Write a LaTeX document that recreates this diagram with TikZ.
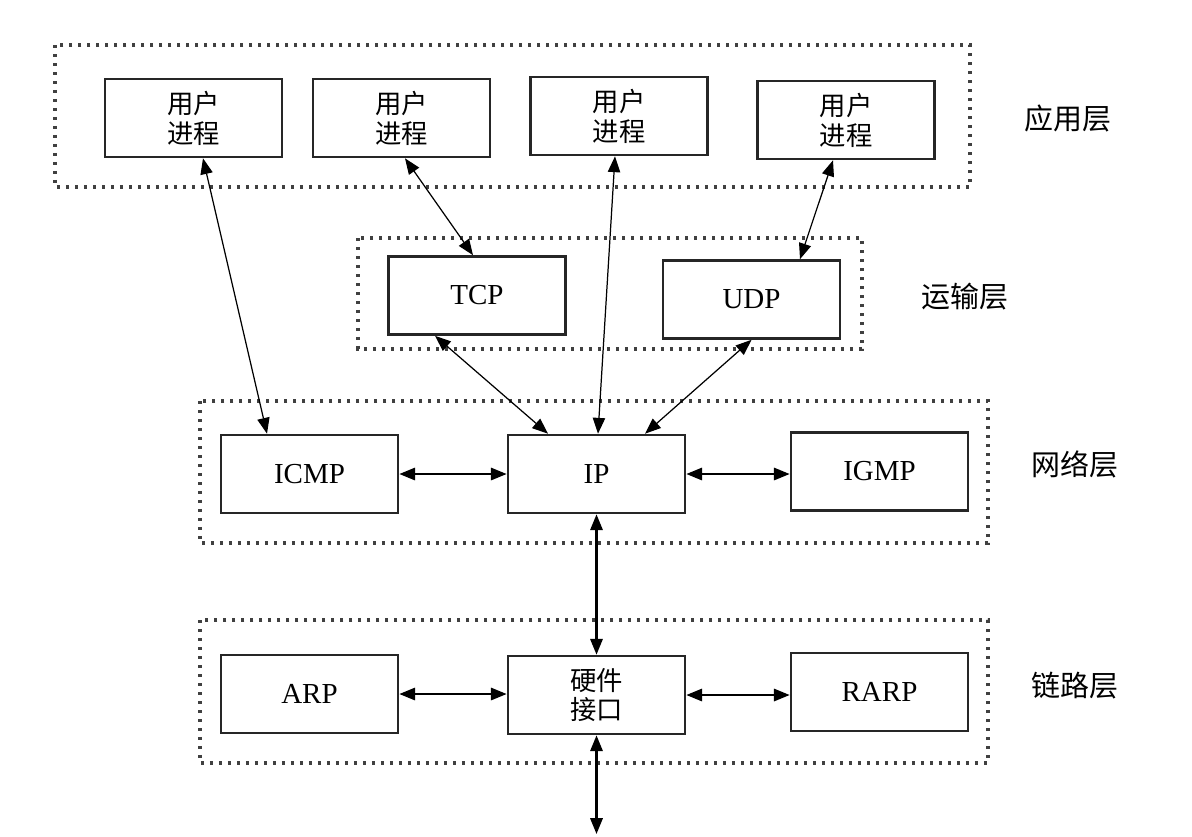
\documentclass[tikz,border=0pt]{standalone}
\usepackage{fontspec}
\setmainfont{Liberation Serif}
\newfontfamily\cjk{Noto Sans CJK SC}
\usetikzlibrary{arrows.meta}
\begin{document}
\begin{tikzpicture}[x=0.02cm,y=-0.02cm,
  box/.style={draw=black!85, line width=1.5pt, minimum width=3.54cm, minimum height=1.56cm, inner sep=0pt, fill=white, font=\fontsize{16.5}{17}\selectfont, align=center},
  cbox/.style={box, font=\cjk\fontsize{15}{17}\selectfont},
  layer/.style={draw=black!75, line width=1.8pt, dash pattern=on 0.065cm off 0.115cm},
  lbl/.style={font=\cjk\fontsize{16.5}{18}\selectfont},
  link/.style={{Triangle[length=9pt,width=7pt]}-{Triangle[length=9pt,width=7pt]}, line width=0.7pt},
  hlink/.style={link, line width=1.3pt}]
\useasboundingbox (0,0) rectangle (1192,836);
% layers
\draw[layer] (55,45) rectangle (970,187);
\draw[layer] (358,238) rectangle (862,349);
\draw[layer] (200,401) rectangle (988,543);
\draw[layer] (200,620) rectangle (988,763);
% layer labels
\node[lbl] (lapp) at (1068,118) {应用层};
\node[lbl] (ltr)  at (965,297) {运输层};
\node[lbl] (lnet) at (1075,464) {网络层};
\node[lbl] (llnk) at (1075,686) {链路层};
% boxes
\node[cbox] (up1) at (193.5,118) {用户\\进程};
\node[cbox] (up2) at (401.5,118) {用户\\进程};
\node[cbox] (up3) at (619,116) {用户\\进程};
\node[cbox] (up4) at (846,120) {用户\\进程};
\node[box] (tcp) at (477,295.5) {TCP};
\node[box] (udp) at (751.5,299.5) {UDP};
\node[box] (icmp) at (309.5,474) {ICMP};
\node[box] (ip) at (596.5,474) {IP};
\node[box] (igmp) at (879.5,471.5) {IGMP};
\node[box] (arp) at (309.5,694) {ARP};
\node[cbox] (hw) at (596.5,695) {硬件\\接口};
\node[box] (rarp) at (879.5,692) {RARP};
\coordinate (ext) at (596.5,834);
% connectors
\draw[link] ([xshift=0.19cm]up1.south) -- ([xshift=-0.85cm]icmp.north);
\draw[link] ([xshift=0.07cm]up2.south) -- ([xshift=-0.08cm]tcp.north);
\draw[link] ([xshift=-0.08cm]up3.south) -- ([xshift=0.03cm]ip.north);
\draw[link] ([xshift=-0.26cm]up4.south) -- ([xshift=0.97cm]udp.north);
\draw[link] ([xshift=-0.84cm]tcp.south) -- ([xshift=-0.97cm]ip.north);
\draw[link] (udp.south) -- ([xshift=0.97cm]ip.north);
\draw[hlink] (icmp.east) -- (ip.west);
\draw[hlink] (ip.east) -- (igmp.west |- ip.east);
\draw[hlink] (ip.south) -- (hw.north);
\draw[hlink] (arp.east) -- (hw.west |- arp.east);
\draw[hlink] (hw.east) -- (rarp.west |- hw.east);
\draw[hlink] (hw.south) -- (ext);
\end{tikzpicture}
\end{document}
